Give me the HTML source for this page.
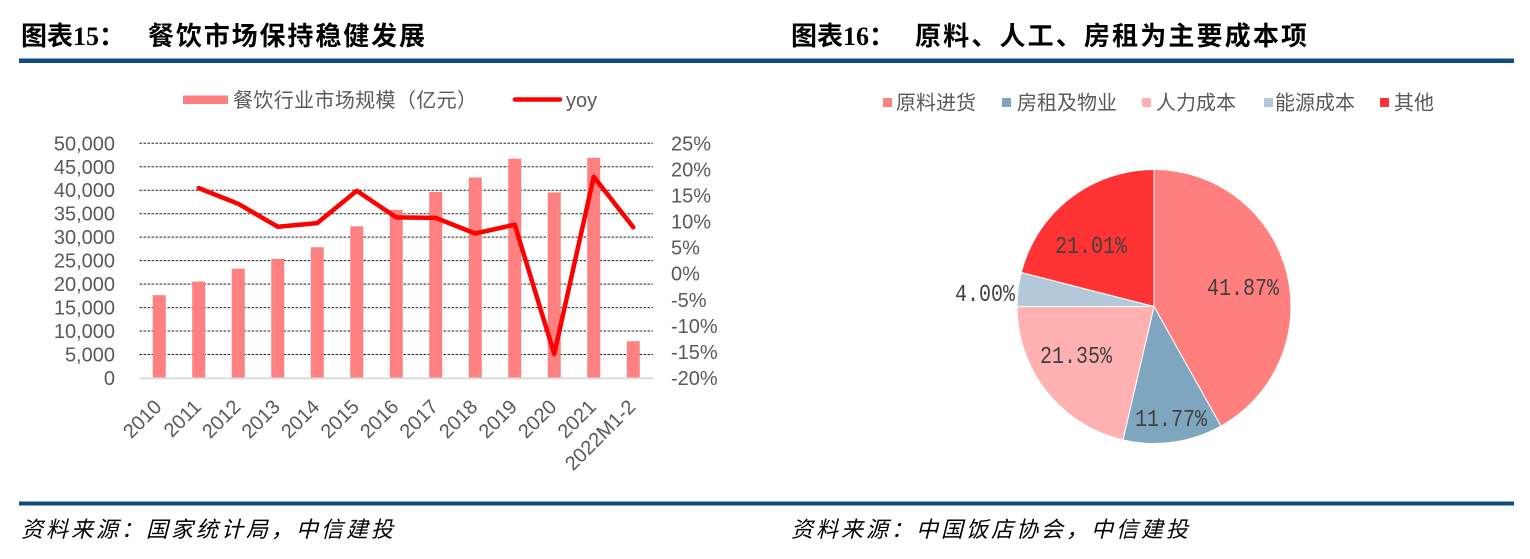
<!DOCTYPE html>
<html>
<head>
<meta charset="utf-8">
<style>
html,body{margin:0;padding:0;background:#fff;}
body{width:1530px;height:559px;overflow:hidden;}
svg{display:block;}
.cjk{font-family:"Liberation Sans","Noto Sans CJK SC",sans-serif;}
.ax{font-family:"Liberation Sans",sans-serif;font-size:20px;fill:#595959;}
.pl{font-family:"Liberation Mono",monospace;font-size:24px;fill:#404040;}
</style>
</head>
<body>
<svg width="1530" height="559" viewBox="0 0 1530 559" xmlns="http://www.w3.org/2000/svg">
  <!-- Titles -->
  <text x="21" y="45" font-family="'Liberation Serif','Noto Sans CJK SC',serif" font-weight="bold" font-size="26" fill="#000">图表15：</text>
  <text x="148" y="45" font-family="'Liberation Sans','Noto Sans CJK SC',sans-serif" font-weight="bold" font-size="26" fill="#000" textLength="277" lengthAdjust="spacing">餐饮市场保持稳健发展</text>
  <text x="791" y="45" font-family="'Liberation Serif','Noto Sans CJK SC',serif" font-weight="bold" font-size="26" fill="#000">图表16：</text>
  <text x="915" y="45" font-family="'Liberation Sans','Noto Sans CJK SC',sans-serif" font-weight="bold" font-size="26" fill="#000" textLength="392" lengthAdjust="spacing">原料、人工、房租为主要成本项</text>

  <!-- Blue rules -->
  <rect x="19" y="58.5" width="1495" height="4.5" fill="#0F4C81"/>
  <rect x="19" y="501.5" width="1495" height="4" fill="#0F4C81"/>

  <!-- Left legend -->
  <rect x="183" y="95.5" width="45" height="8.5" fill="#FF7F7F"/>
  <text x="233" y="107" class="cjk" font-size="20" fill="#595959" textLength="244" lengthAdjust="spacing">餐饮行业市场规模（亿元）</text>
  <line x1="515" y1="99.5" x2="560" y2="99.5" stroke="#FF0000" stroke-width="4.5" stroke-linecap="round"/>
  <text x="566" y="107" class="ax" font-size="20">yoy</text>

  <!-- Gridlines -->
  <g stroke="#222" stroke-width="1" stroke-dasharray="2.5 1.5">
    <line x1="139.5" y1="143.3" x2="653" y2="143.3"/>
    <line x1="139.5" y1="166.77" x2="653" y2="166.77"/>
    <line x1="139.5" y1="190.24" x2="653" y2="190.24"/>
    <line x1="139.5" y1="213.71" x2="653" y2="213.71"/>
    <line x1="139.5" y1="237.18" x2="653" y2="237.18"/>
    <line x1="139.5" y1="260.65" x2="653" y2="260.65"/>
    <line x1="139.5" y1="284.12" x2="653" y2="284.12"/>
    <line x1="139.5" y1="307.59" x2="653" y2="307.59"/>
    <line x1="139.5" y1="331.06" x2="653" y2="331.06"/>
    <line x1="139.5" y1="354.53" x2="653" y2="354.53"/>
  </g>

  <!-- Bars -->
  <g fill="#FF8080">
    <rect x="152.75" y="295.16" width="13" height="82.84"/>
    <rect x="192.25" y="281.57" width="13" height="96.43"/>
    <rect x="231.75" y="268.71" width="13" height="109.29"/>
    <rect x="271.25" y="258.81" width="13" height="119.19"/>
    <rect x="310.75" y="247.22" width="13" height="130.78"/>
    <rect x="350.25" y="226.34" width="13" height="151.66"/>
    <rect x="389.75" y="209.96" width="13" height="168.04"/>
    <rect x="429.25" y="191.91" width="13" height="186.09"/>
    <rect x="468.75" y="177.49" width="13" height="200.51"/>
    <rect x="508.25" y="158.69" width="13" height="219.31"/>
    <rect x="547.75" y="192.46" width="13" height="185.54"/>
    <rect x="587.25" y="157.87" width="13" height="220.13"/>
    <rect x="626.75" y="341.23" width="13" height="36.77"/>
  </g>

  <!-- Axis baseline -->
  <line x1="139.5" y1="378.3" x2="653" y2="378.3" stroke="#D9D9D9" stroke-width="1.8"/>

  <!-- YoY line -->
  <polyline fill="none" stroke="#FF0000" stroke-width="4.5" stroke-linejoin="round" stroke-linecap="round"
    points="198.75,188.15 238.25,203.8 277.75,226.75 317.25,223.1 356.75,190.8 396.25,217.4 435.75,217.9 475.25,233.5 514.75,224.7 554.25,354 593.75,176.7 633.25,227.3"/>

  <!-- Left Y axis labels -->
  <g class="ax" text-anchor="end">
    <text x="115" y="150.3">50,000</text>
    <text x="115" y="173.8">45,000</text>
    <text x="115" y="197.2">40,000</text>
    <text x="115" y="220.7">35,000</text>
    <text x="115" y="244.2">30,000</text>
    <text x="115" y="267.7">25,000</text>
    <text x="115" y="291.1">20,000</text>
    <text x="115" y="314.6">15,000</text>
    <text x="115" y="338.1">10,000</text>
    <text x="115" y="361.5">5,000</text>
    <text x="115" y="385">0</text>
  </g>

  <!-- Right Y axis labels (9 intervals of 26.08px) -->
  <g class="ax">
    <text x="671" y="150.3">25%</text>
    <text x="671" y="176.4">20%</text>
    <text x="671" y="202.5">15%</text>
    <text x="671" y="228.5">10%</text>
    <text x="671" y="254.6">5%</text>
    <text x="671" y="280.7">0%</text>
    <text x="671" y="306.8">-5%</text>
    <text x="671" y="332.9">-10%</text>
    <text x="671" y="358.9">-15%</text>
    <text x="671" y="385">-20%</text>
  </g>

  <!-- X axis labels -->
  <g class="ax" text-anchor="end">
    <text transform="translate(162.75,408) rotate(-45)">2010</text>
    <text transform="translate(202.25,408) rotate(-45)">2011</text>
    <text transform="translate(241.75,408) rotate(-45)">2012</text>
    <text transform="translate(281.25,408) rotate(-45)">2013</text>
    <text transform="translate(320.75,408) rotate(-45)">2014</text>
    <text transform="translate(360.25,408) rotate(-45)">2015</text>
    <text transform="translate(399.75,408) rotate(-45)">2016</text>
    <text transform="translate(439.25,408) rotate(-45)">2017</text>
    <text transform="translate(478.75,408) rotate(-45)">2018</text>
    <text transform="translate(518.25,408) rotate(-45)">2019</text>
    <text transform="translate(557.75,408) rotate(-45)">2020</text>
    <text transform="translate(597.25,408) rotate(-45)">2021</text>
    <text transform="translate(636.75,408) rotate(-45)">2022M1-2</text>
  </g>

  <!-- Right legend -->
  <rect x="883" y="98" width="9" height="9" fill="#FF7F7F"/>
  <text x="896" y="109.5" class="cjk" font-size="20" fill="#595959" textLength="80" lengthAdjust="spacing">原料进货</text>
  <rect x="1002" y="98" width="9" height="9" fill="#7FA6BF"/>
  <text x="1017" y="109.5" class="cjk" font-size="20" fill="#595959" textLength="100" lengthAdjust="spacing">房租及物业</text>
  <rect x="1142" y="98" width="9" height="9" fill="#FFB1B1"/>
  <text x="1156" y="109.5" class="cjk" font-size="20" fill="#595959" textLength="80" lengthAdjust="spacing">人力成本</text>
  <rect x="1264" y="98" width="9" height="9" fill="#B3C9D9"/>
  <text x="1275" y="109.5" class="cjk" font-size="20" fill="#595959" textLength="80" lengthAdjust="spacing">能源成本</text>
  <rect x="1380" y="98" width="9" height="9" fill="#FF3333"/>
  <text x="1394" y="109.5" class="cjk" font-size="20" fill="#595959" textLength="40" lengthAdjust="spacing">其他</text>

  <!-- Pie -->
  <g stroke="#fff" stroke-width="1">
    <path d="M1154,306.5 L1154,169.5 A137,137 0 0 1 1220.94,426.03 Z" fill="#FF7F7F"/>
    <path d="M1154,306.5 L1220.94,426.03 A137,137 0 0 1 1122.94,439.94 Z" fill="#7FA6BF"/>
    <path d="M1154,306.5 L1122.94,439.94 A137,137 0 0 1 1017,306.58 Z" fill="#FFB1B1"/>
    <path d="M1154,306.5 L1017,306.58 A137,137 0 0 1 1021.27,272.51 Z" fill="#B3C9D9"/>
    <path d="M1154,306.5 L1021.27,272.51 A137,137 0 0 1 1154,169.5 Z" fill="#FF3333"/>
  </g>
  <g class="pl">
    <text x="1207" y="295" textLength="72" lengthAdjust="spacingAndGlyphs">41.87%</text>
    <text x="1055" y="253" textLength="72" lengthAdjust="spacingAndGlyphs">21.01%</text>
    <text x="1040" y="363" textLength="72" lengthAdjust="spacingAndGlyphs">21.35%</text>
    <text x="1135" y="426" textLength="72" lengthAdjust="spacingAndGlyphs">11.77%</text>
    <text x="955" y="301" textLength="60" lengthAdjust="spacingAndGlyphs">4.00%</text>
  </g>

  <!-- Sources -->
  <text x="21" y="537" font-family="'Liberation Sans','Noto Sans CJK SC',sans-serif" font-style="italic" font-size="22" fill="#000" textLength="372" lengthAdjust="spacing">资料来源：国家统计局，中信建投</text>
  <text x="791" y="537" font-family="'Liberation Sans','Noto Sans CJK SC',sans-serif" font-style="italic" font-size="22" fill="#000" textLength="397" lengthAdjust="spacing">资料来源：中国饭店协会，中信建投</text>
</svg>
</body>
</html>
